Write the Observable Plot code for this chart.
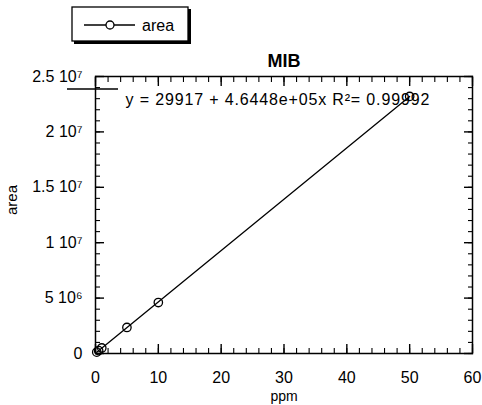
<!DOCTYPE html>
<html>
<head>
<meta charset="utf-8">
<script src="https://cdn.jsdelivr.net/npm/d3@7"></script>
<script src="https://cdn.jsdelivr.net/npm/@observablehq/plot@0.6"></script>
<style>
  html, body { margin: 0; padding: 0; background: #fff; }
  svg { display: block; }
</style>
</head>
<body>
<div id="chart"></div>
<script>
// ---- data ----
const ppm  = [0.2, 0.5, 1, 5, 10, 50];
const area = [1.2e5, 2.6e5, 5.0e5, 2.35e6, 4.6e6, 2.32e7];
const xMajorTicks = [0, 10, 20, 30, 40, 50, 60];
const xMinorTicks = d3.range(0, 61, 2);
const yMajorTicks = [0, 5e6, 1e7, 1.5e7, 2e7, 2.5e7];
const yMinorTicks = d3.range(0, 2.5e7 + 1, 1e6);
const title = "MIB";
const seriesName = "area";
const equation = "y = 29917 + 4.6448e+05x R\u00b2= 0.99992";

const data = ppm.map((x, i) => ({ppm: x, area: area[i]}));

const sup = {"0":"\u2070","1":"\u00b9","2":"\u00b2","3":"\u00b3","4":"\u2074","5":"\u2075","6":"\u2076","7":"\u2077","8":"\u2078","9":"\u2079"};
function sciFormat(v) {
  if (v === 0) return "0";
  const e = Math.floor(Math.log10(v));
  const m = +(v / Math.pow(10, e)).toFixed(2);
  return m + " 10" + String(e).split("").map(c => sup[c]).join("");
}

const font = "'Liberation Sans', Arial, Helvetica, sans-serif";
const MAJ = 9, MIN = 5;

const chart = Plot.plot({
  width: 482,
  height: 405,
  marginLeft: 95,
  marginRight: 10,
  marginTop: 76,
  marginBottom: 52,
  style: {fontFamily: font, fontSize: "16px", color: "black", background: "white"},
  x: {domain: [0, 60]},
  y: {domain: [0, 2.5e7]},
  marks: [
    Plot.frame({stroke: "black", strokeWidth: 1.5}),
    // x ticks, bottom and top, pointing inward
    Plot.axisX({anchor: "bottom", ticks: xMajorTicks, tickSize: MAJ, dy: -MAJ, text: null, label: null, strokeWidth: 1.4}),
    Plot.axisX({anchor: "bottom", ticks: xMinorTicks, tickSize: MIN, dy: -MIN, text: null, label: null, strokeWidth: 1.1}),
    Plot.axisX({anchor: "top", ticks: xMajorTicks, tickSize: MAJ, dy: MAJ, text: null, label: null, strokeWidth: 1.4}),
    Plot.axisX({anchor: "top", ticks: xMinorTicks, tickSize: MIN, dy: MIN, text: null, label: null, strokeWidth: 1.1}),
    Plot.axisX({anchor: "bottom", ticks: xMajorTicks, tickSize: 0, tickPadding: 18, label: null, fontSize: 16}),
    // y ticks, left and right, pointing inward
    Plot.axisY({anchor: "left", ticks: yMajorTicks, tickSize: MAJ, dx: MAJ, text: null, label: null, strokeWidth: 1.4}),
    Plot.axisY({anchor: "left", ticks: yMinorTicks, tickSize: MIN, dx: MIN, text: null, label: null, strokeWidth: 1.1}),
    Plot.axisY({anchor: "right", ticks: yMajorTicks, tickSize: MAJ, dx: -MAJ, text: null, label: null, strokeWidth: 1.4}),
    Plot.axisY({anchor: "right", ticks: yMinorTicks, tickSize: MIN, dx: -MIN, text: null, label: null, strokeWidth: 1.1}),
    Plot.axisY({anchor: "left", ticks: yMajorTicks, tickSize: 0, tickPadding: 13, tickFormat: sciFormat, label: null, fontSize: 16}),
    // axis titles
    Plot.text([seriesName], {frameAnchor: "left", dx: -83, rotate: -90, fontSize: 15, text: d => d}),
    Plot.text(["ppm"], {frameAnchor: "bottom", dy: 47, fontSize: 14, lineAnchor: "bottom", text: d => d}),
    Plot.text([title], {frameAnchor: "top", dy: -10, fontSize: 18, fontWeight: "bold", lineAnchor: "bottom", text: d => d}),
    Plot.text([equation], {frameAnchor: "top-left", dx: 30, dy: 28, fontSize: 16, textAnchor: "start", lineAnchor: "bottom", text: d => d, className: "eqlabel"}),
    // regression line and points
    Plot.linearRegressionY(data, {x: "ppm", y: "area", ci: 0, stroke: "black", strokeWidth: 1.3}),
    Plot.dot(data, {x: "ppm", y: "area", r: 4.2, stroke: "black", fill: "none", strokeWidth: 1.3})
  ]
});

document.getElementById("chart").appendChild(chart);

const svg = d3.select(chart);
svg.selectAll(".eqlabel text").attr("letter-spacing", "0.85px");

// ---- legend box and leader line (decorations) ----
const lg = svg.append("g").attr("font-family", font).attr("text-anchor", "start");
lg.append("rect").attr("x", 74).attr("y", 9).attr("width", 117).attr("height", 35).attr("fill", "black");
lg.append("rect").attr("x", 72).attr("y", 7).attr("width", 116).attr("height", 34).attr("fill", "white").attr("stroke", "black").attr("stroke-width", 1.3);
lg.append("line").attr("x1", 84).attr("x2", 135).attr("y1", 25).attr("y2", 25).attr("stroke", "black").attr("stroke-width", 1.3);
lg.append("circle").attr("cx", 110).attr("cy", 25).attr("r", 4).attr("fill", "white").attr("stroke", "black").attr("stroke-width", 1.3);
lg.append("text").attr("x", 142).attr("y", 31).attr("font-size", 16).attr("text-anchor", "start").text(seriesName);
svg.append("line").attr("x1", 67).attr("x2", 118).attr("y1", 89).attr("y2", 89).attr("stroke", "black").attr("stroke-width", 1.3);
</script>
</body>
</html>
